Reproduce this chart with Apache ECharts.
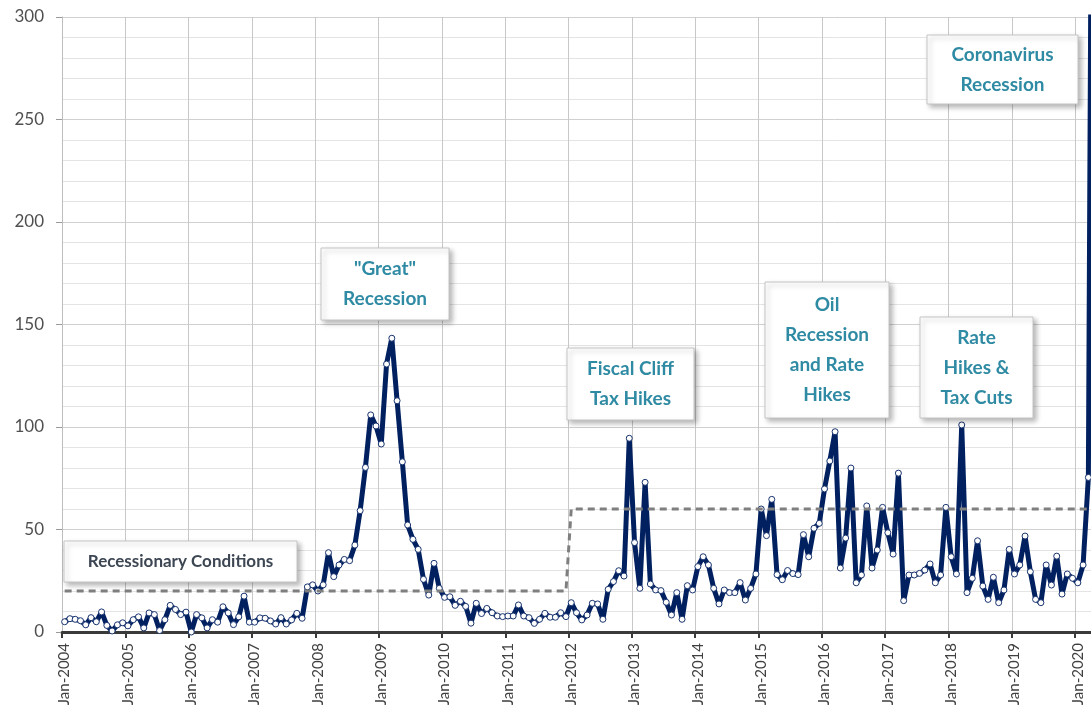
<!DOCTYPE html>
<html>
<head>
<meta charset="utf-8">
<script src="https://cdn.jsdelivr.net/npm/echarts@6/dist/echarts.min.js"></script>
<style>
  html, body { margin: 0; padding: 0; background: #ffffff; }
  #chart { width: 1091px; height: 715px; }
</style>
</head>
<body>
<div id="chart"></div>
<script>
// Monthly readings, Jan-2004 through Apr-2020
const firstYear = 2004;
const monthNames = ['Jan','Feb','Mar','Apr','May','Jun','Jul','Aug','Sep','Oct','Nov','Dec'];

const y2004 = [5, 6.5, 6.2, 5.5, 3.5, 7, 5, 9.8, 3.2, 0.5, 3.5, 4.5];
const y2005 = [3, 6, 7.4, 2, 9.3, 8.5, 0.7, 6, 13, 11, 8.5, 9.7];
const y2006 = [0, 8.5, 6.9, 2, 6, 4.8, 12.3, 9.3, 3.6, 7.4, 17.5, 4.8];
const y2007 = [4.8, 6.9, 6.7, 5.4, 3.9, 7, 3.9, 5.9, 9.1, 6.7, 22, 23];
const y2008 = [20, 23, 38.7, 27, 32.7, 35.4, 34.8, 42.4, 59.2, 80.3, 105.9, 100.5];
const y2009 = [91.7, 130.7, 143.3, 112.8, 83, 52.2, 45.2, 40.3, 25.7, 18, 33.5, 21.3];
const y2010 = [16.9, 17.2, 13, 15, 12.5, 4.3, 14, 9, 11.5, 9.4, 7.8, 7.5];
const y2011 = [7.8, 7.8, 13.2, 7.8, 7, 4.2, 6.2, 9.1, 7.2, 7.2, 9.4, 7.5];
const y2012 = [14.3, 9.4, 5.9, 8.3, 14, 13.7, 6.2, 20.8, 24.6, 29.9, 27.3, 94.5];
const y2013 = [43.6, 21.3, 73, 23.4, 20.5, 20.2, 14.5, 8.3, 19.2, 6.2, 22.6, 20.5];
const y2014 = [31.9, 36.7, 32.7, 21.3, 13.7, 20.5, 19.2, 19.2, 24.1, 15.6, 21.3, 28.3];
const y2015 = [60, 47, 64.7, 28, 25.5, 30, 28.5, 28, 47.5, 36.7, 50.6, 53];
const y2016 = [69.8, 83.4, 97.7, 31.2, 45.8, 80, 24, 27.8, 61.5, 31.2, 40, 60.8];
const y2017 = [48.4, 38, 77.5, 15.3, 27.8, 27.8, 28.6, 30.2, 33.2, 24, 27.8, 60.8];
const y2018 = [36.7, 28.3, 101, 19.2, 26.2, 44.5, 22.4, 15.9, 26.7, 14.3, 20.5, 40.3];
const y2019 = [28.3, 32.7, 46.8, 29.4, 15.9, 14.3, 32.7, 22.9, 37, 18.5, 28.3, 26.2];
const y2020 = [24, 32.7, 75.4, 600];

// "Recessionary Conditions" threshold: level in force from each start month
const thresholdSteps = [
  { from: 'Jan-2004', level: 20 },
  { from: 'Jan-2012', level: 60 }
];

// Y-axis tick labels
const yTicks = [0, 50, 100, 150, 200, 250, 300];

const yearly = [y2004, y2005, y2006, y2007, y2008, y2009, y2010, y2011,
                y2012, y2013, y2014, y2015, y2016, y2017, y2018, y2019, y2020];
const values = [].concat(...yearly);

const months = [];
yearly.forEach((arr, yi) => {
  arr.forEach((_, mi) => months.push(monthNames[mi] + '-' + (firstYear + yi)));
});

const threshold = months.map((m, i) => {
  let level = thresholdSteps[0].level;
  thresholdSteps.forEach(s => { if (i >= months.indexOf(s.from)) level = s.level; });
  return level;
});

const isYearStart = (idx) => idx % 12 === 0;

const teal = '#2f8aa3';
const font = 'Lato';

// Callout boxes
function callout(x, y, w, h, lines, opts) {
  opts = opts || {};
  return {
    type: 'group',
    z: 100,
    children: [
      {
        type: 'rect',
        z: 100,
        shape: { x: x, y: y, width: w, height: h },
        style: {
          fill: '#ffffff', stroke: '#c4c4c4', lineWidth: 1,
          shadowBlur: 5, shadowOffsetX: 3, shadowOffsetY: 3,
          shadowColor: 'rgba(0,0,0,0.28)'
        }
      },
      {
        type: 'text',
        z: 101,
        x: x + w / 2,
        y: y + h / 2,
        style: {
          text: lines.join('\n'),
          align: 'center',
          verticalAlign: 'middle',
          fontFamily: font,
          fontWeight: 'bold',
          fontSize: opts.size || 19,
          lineHeight: opts.lineHeight || 30,
          fill: opts.color || teal
        }
      }
    ]
  };
}

const chart = echarts.init(document.getElementById('chart'), null, { renderer: 'canvas' });

// 196 monthly bands of about 5.28 px; the last band runs past the right edge
const bandWidth = 5.277;

chart.setOption({
  animation: false,
  backgroundColor: '#ffffff',
  grid: {
    left: 62, top: 17, width: bandWidth * months.length, bottom: 83,
    containLabel: false, outerBoundsMode: 'none'
  },
  xAxis: {
    type: 'category',
    data: months,
    boundaryGap: true,
    axisLine: { show: true, lineStyle: { color: '#3a3a3a', width: 3 } },
    axisTick: {
      show: true, length: 6, interval: (i) => isYearStart(i),
      lineStyle: { color: '#3a3a3a', width: 2 }
    },
    axisLabel: {
      interval: (i) => isYearStart(i),
      rotate: 90,
      margin: 11,
      fontFamily: font,
      fontSize: 15,
      color: '#404040'
    },
    splitLine: {
      show: true, interval: (i) => isYearStart(i),
      lineStyle: { color: '#c8c8c8', width: 1 }
    }
  },
  yAxis: {
    type: 'value',
    min: 0,
    max: 300,
    interval: 50,
    axisLine: { show: true, lineStyle: { color: '#bdbdbd', width: 1 } },
    axisTick: { show: true, length: 6, lineStyle: { color: '#9a9a9a' } },
    axisLabel: {
      margin: 18,
      fontFamily: font,
      fontSize: 17,
      color: '#505050',
      formatter: (v) => (yTicks.indexOf(v) >= 0 ? String(v) : '')
    },
    splitLine: { show: true, lineStyle: { color: '#d0d0d0', width: 1 } },
    minorTick: { show: false, splitNumber: 5 },
    minorSplitLine: { show: true, lineStyle: { color: '#e4e4e4', width: 1 } }
  },
  series: [
    {
      name: 'Index',
      type: 'line',
      data: values,
      z: 3,
      clip: true,
      showAllSymbol: true,
      symbol: 'circle',
      symbolSize: 6,
      lineStyle: { color: '#002060', width: 5, join: 'round' },
      itemStyle: { color: '#ffffff', borderColor: '#1a3570', borderWidth: 1 }
    },
    {
      name: 'Recessionary Conditions',
      type: 'line',
      data: threshold,
      z: 4,
      symbol: 'none',
      lineStyle: { color: '#7f7f7f', width: 3, type: [7, 5] }
    }
  ],
  graphic: [
    callout(64, 541, 233, 41, ['Recessionary Conditions'], { size: 17, color: '#3d4653' }),
    callout(321, 248, 128, 72, ['"Great"', 'Recession']),
    callout(567, 348, 127, 72, ['Fiscal Cliff', 'Tax Hikes']),
    callout(765, 282, 124, 136, ['Oil', 'Recession', 'and Rate', 'Hikes']),
    callout(920, 317, 113, 101, ['Rate', 'Hikes &', 'Tax Cuts']),
    callout(927, 35, 151, 69, ['Coronavirus', 'Recession'])
  ]
});
</script>
</body>
</html>
